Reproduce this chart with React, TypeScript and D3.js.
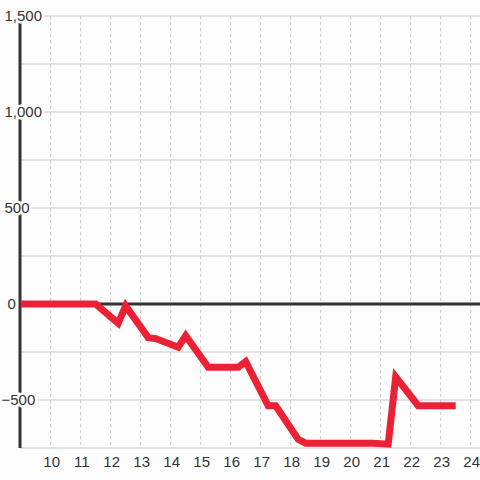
import React from "react";
import * as d3 from "d3";

const hours = [9, 11.5, 12.25, 12.5, 13.25, 13.5, 14.25, 14.5, 15.25, 16.25, 16.5, 17.25, 17.5, 18.25, 18.5, 20.75, 21.25, 21.5, 22.25, 23.5];
const values = [0, 0, -100, -10, -175, -180, -225, -165, -330, -330, -300, -530, -530, -705, -725, -725, -730, -380, -530, -530];
const xTicks = [10, 11, 12, 13, 14, 15, 16, 17, 18, 19, 20, 21, 22, 23, 24];
const yTicks = [-750, -500, -250, 0, 250, 500, 750, 1000, 1250, 1500];
const yLabelTicks = [-500, 0, 500, 1000, 1500];

const W = 480;
const H = 480;

export default function App() {
  const x = d3.scaleLinear().domain([9, 24]).range([20.7, 470.7]);
  const y = d3.scaleLinear().domain([-750, 1500]).range([448, 16]);
  const left = 20;
  const right = 480;
  const fmt = d3.format(",");
  const data = hours.map((h, i) => [h, values[i]] as [number, number]);
  const line = d3
    .line<[number, number]>()
    .x((d) => x(d[0]))
    .y((d) => y(d[1]));
  const bg = "#fdfdfd";
  const font = "'Liberation Sans', Arial, sans-serif";
  return (
    <svg
      width={W}
      height={H}
      style={{ position: "absolute", left: 0, top: 0, background: bg }}
    >
      <rect x={0} y={0} width={W} height={H} fill={bg} />
      {xTicks.map((t) => (
        <line
          key={"vx" + t}
          x1={x(t)}
          x2={x(t)}
          y1={y(1500)}
          y2={y(-750)}
          stroke="#c8c8c8"
          strokeWidth={1}
          strokeDasharray="3,3"
        />
      ))}
      {yTicks.map((t) => (
        <line
          key={"hy" + t}
          x1={left}
          x2={right}
          y1={y(t)}
          y2={y(t)}
          stroke="#c8c8c8"
          strokeWidth={1}
        />
      ))}
      <line x1={left} x2={left} y1={y(1500)} y2={y(-750)} stroke="#333" strokeWidth={3} />
      <line x1={left} x2={right} y1={y(0)} y2={y(0)} stroke="#333" strokeWidth={3} />
      {yLabelTicks.map((t) => (
        <text
          key={"yl" + t}
          x={t === 0 ? 7.5 : t < 0 ? 1.5 : 4.5}
          y={y(t)}
          dy="0.35em"
          fontFamily={font}
          fontSize={15}
          fill="#333"
          stroke={bg}
          strokeWidth={5}
          paintOrder="stroke"
          textAnchor="start"
        >
          {fmt(t)}
        </text>
      ))}
      {xTicks.map((t) => (
        <text
          key={"xl" + t}
          x={x(t) + 1}
          y={462}
          dy="0.35em"
          fontFamily={font}
          fontSize={15}
          fill="#333"
          textAnchor="middle"
        >
          {t}
        </text>
      ))}
      <path
        d={line(data) || ""}
        fill="none"
        stroke="#ec2136"
        strokeWidth={7}
        strokeLinejoin="miter"
        strokeLinecap="butt"
      />
    </svg>
  );
}
